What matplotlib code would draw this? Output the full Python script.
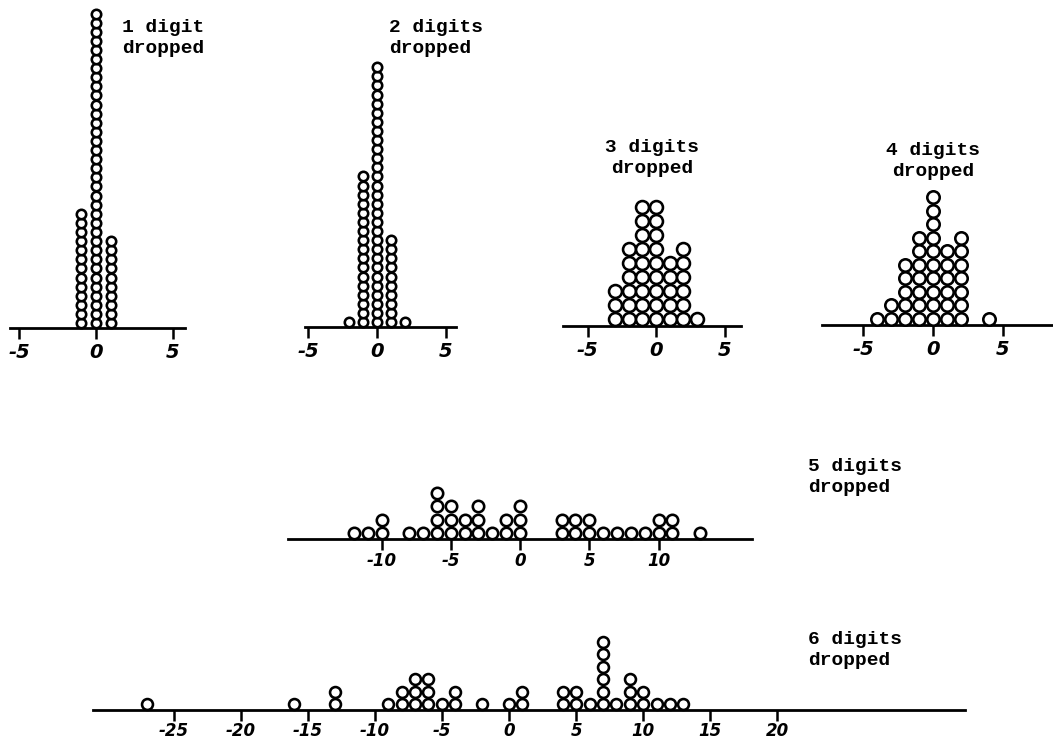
import matplotlib
matplotlib.use("Agg")
import matplotlib.pyplot as plt

plt.rcParams["axes.unicode_minus"] = False

W, H = 1053, 756

# stacked dot counts, one list pair per panel
p1_vals = [-1, 0, 1]
p1_counts = [13, 35, 10]
p2_vals = [-2, -1, 0, 1, 2]
p2_counts = [1, 17, 29, 10, 1]
p3_vals = [-3, -2, -1, 0, 1, 2, 3]
p3_counts = [3, 6, 9, 9, 5, 6, 1]
p4_vals = [-4, -3, -2, -1, 0, 1, 2, 4]
p4_counts = [1, 2, 5, 7, 10, 6, 7, 1]
p5_vals = [-12, -11, -10, -8, -7, -6, -5, -4, -3, -2, -1, 0,
           3, 4, 5, 6, 7, 8, 9, 10, 11, 13]
p5_counts = [1, 1, 2, 1, 1, 4, 3, 2, 3, 1, 2, 3,
             2, 2, 2, 1, 1, 1, 1, 2, 2, 1]
p6_vals = [-27, -16, -13, -9, -8, -7, -6, -5, -4, -2, 0, 1,
           4, 5, 6, 7, 8, 9, 10, 11, 12, 13]
p6_counts = [1, 1, 2, 1, 2, 3, 3, 1, 2, 1, 1, 2,
             2, 2, 1, 6, 1, 3, 2, 1, 1, 1]

small_ticks = [-5, 0, 5]
mid_ticks = [-10, -5, 0, 5, 10]
wide_ticks = [-25, -20, -15, -10, -5, 0, 5, 10, 15, 20]

labels = ["1 digit\ndropped", "2 digits\ndropped", "3 digits\ndropped",
          "4 digits\ndropped", "5 digits\ndropped", "6 digits\ndropped"]

fig = plt.figure(figsize=(W / 100, H / 100), dpi=100)


def dot_panel(vals, counts, ticks, axis_y, x0, x1, zero, unit, diam, pitch,
              tick_size, pad, top=150):
    ax = fig.add_axes([x0 / W, (H - axis_y) / H, (x1 - x0) / W, top / H])
    ax.set_xlim((x0 - zero) / unit, (x1 - zero) / unit)
    ax.set_ylim(0, top / pitch)
    lw = 2.6
    ms = (diam - lw) * 0.72
    for v, c in zip(vals, counts):
        ys = [(diam / 2 - 1) / pitch + k for k in range(c)]
        ax.plot([v] * c, ys, "o", ms=ms, mfc="white", mec="black",
                mew=lw * 0.72, clip_on=False, zorder=3)
    for s in ["top", "left", "right"]:
        ax.spines[s].set_visible(False)
    ax.spines["bottom"].set_linewidth(2.0)
    ax.set_yticks([])
    ax.set_xticks(ticks)
    ax.set_xticklabels([str(t) for t in ticks])
    ax.tick_params(axis="x", direction="out", length=8, width=1.8, pad=pad,
                   labelsize=tick_size)
    for lab in ax.get_xticklabels():
        lab.set_fontweight("bold")
        lab.set_fontstyle("italic")
        lab.set_family("DejaVu Sans")
    ax.patch.set_alpha(0)
    return ax


dot_panel(p1_vals, p1_counts, small_ticks, 328, 10, 185, 96, 15.3, 12, 9.1, 14, 3, top=330)
dot_panel(p2_vals, p2_counts, small_ticks, 327, 305, 456, 377, 13.8, 12, 9.1, 14, 3, top=330)
dot_panel(p3_vals, p3_counts, small_ticks, 326, 563, 741, 656, 13.7, 15.5, 14, 14, 3)
dot_panel(p4_vals, p4_counts, small_ticks, 325, 822, 1053, 933, 14.0, 15, 13.5, 14, 3)
dot_panel(p5_vals, p5_counts, mid_ticks, 539, 288, 752, 520, 13.85, 14, 13.5, 12, 1)
dot_panel(p6_vals, p6_counts, wide_ticks, 710, 93, 965, 509, 13.42, 13.5, 12.5, 12, 1)

txt = dict(family="Liberation Mono", fontweight="bold", fontsize=14,
           linespacing=1.25, va="center")
fig.text(122 / W, 1 - 38 / H, labels[0], ha="left", **txt)
fig.text(389 / W, 1 - 38 / H, labels[1], ha="left", **txt)
fig.text(652 / W, 1 - 158 / H, labels[2], ha="center", multialignment="center", **txt)
fig.text(933 / W, 1 - 161 / H, labels[3], ha="center", multialignment="center", **txt)
fig.text(808 / W, 1 - 477 / H, labels[4], ha="left", **txt)
fig.text(808 / W, 1 - 650 / H, labels[5], ha="left", **txt)

fig.savefig("out.png", dpi=100, facecolor="white")
